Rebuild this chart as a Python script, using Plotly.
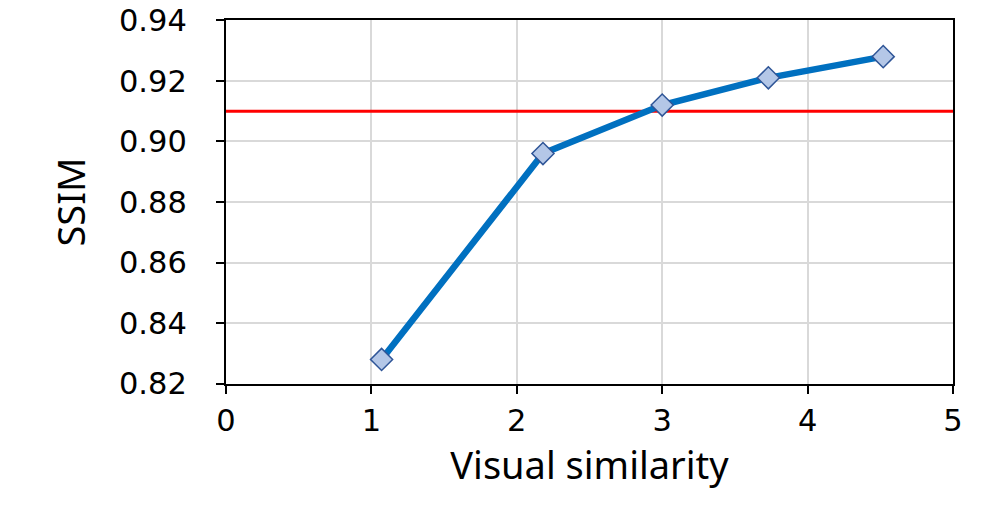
import plotly.graph_objects as go

x_vals = [1.07, 2.18, 3.0, 3.73, 4.52]
ssim_vals = [0.828, 0.896, 0.912, 0.921, 0.928]
threshold = 0.91
x_ticks = [0, 1, 2, 3, 4, 5]
y_ticks = [0.82, 0.84, 0.86, 0.88, 0.90, 0.92, 0.94]

fig = go.Figure()
fig.add_trace(go.Scatter(x=[0, 5], y=[threshold, threshold], mode="lines",
                         line=dict(color="#FF0000", width=3), showlegend=False, hoverinfo="skip"))
fig.add_trace(go.Scatter(x=x_vals, y=ssim_vals, mode="lines+markers",
                         line=dict(color="#0070C0", width=6.5),
                         marker=dict(symbol="diamond", size=17, color="#B4C7E7",
                                     line=dict(color="#2F5597", width=1.5)),
                         showlegend=False))

font_family = "Noto Sans, DejaVu Sans, sans-serif"
tick_font = dict(family="DejaVu Sans, sans-serif", size=30.5, color="black")
fig.update_layout(
    width=997, height=505,
    margin=dict(l=226, r=44, t=20, b=121, autoexpand=False),
    paper_bgcolor="white", plot_bgcolor="white",
    font=dict(family=font_family, size=33, color="black"),
    xaxis=dict(range=[0, 5], tickvals=x_ticks, ticktext=[str(v) for v in x_ticks],
               tickfont=tick_font,
               showgrid=True, gridcolor="#D9D9D9", gridwidth=2,
               showline=True, linecolor="black", linewidth=2, mirror=True,
               ticks="outside", ticklen=8, tickwidth=2, tickcolor="black",
               ticklabeloverflow="allow",
               zeroline=False, automargin=False,
               title=dict(text="Visual similarity", font=dict(size=38), standoff=10)),
    yaxis=dict(range=[0.8199, 0.9401], tickvals=y_ticks, ticktext=[f"{v:.2f}" for v in y_ticks],
               tickfont=tick_font,
               showgrid=True, gridcolor="#D9D9D9", gridwidth=2,
               showline=True, linecolor="black", linewidth=2, mirror=True,
               ticks="outside", ticklen=8, tickwidth=2, tickcolor="black",
               ticklabelstandoff=23, ticklabeloverflow="allow",
               zeroline=False, automargin=False,
               title=dict(text="SSIM", font=dict(size=38), standoff=22)),
)

fig.write_html("out.html", config={"displayModeBar": False},
               post_script="document.body.style.margin='0';")
